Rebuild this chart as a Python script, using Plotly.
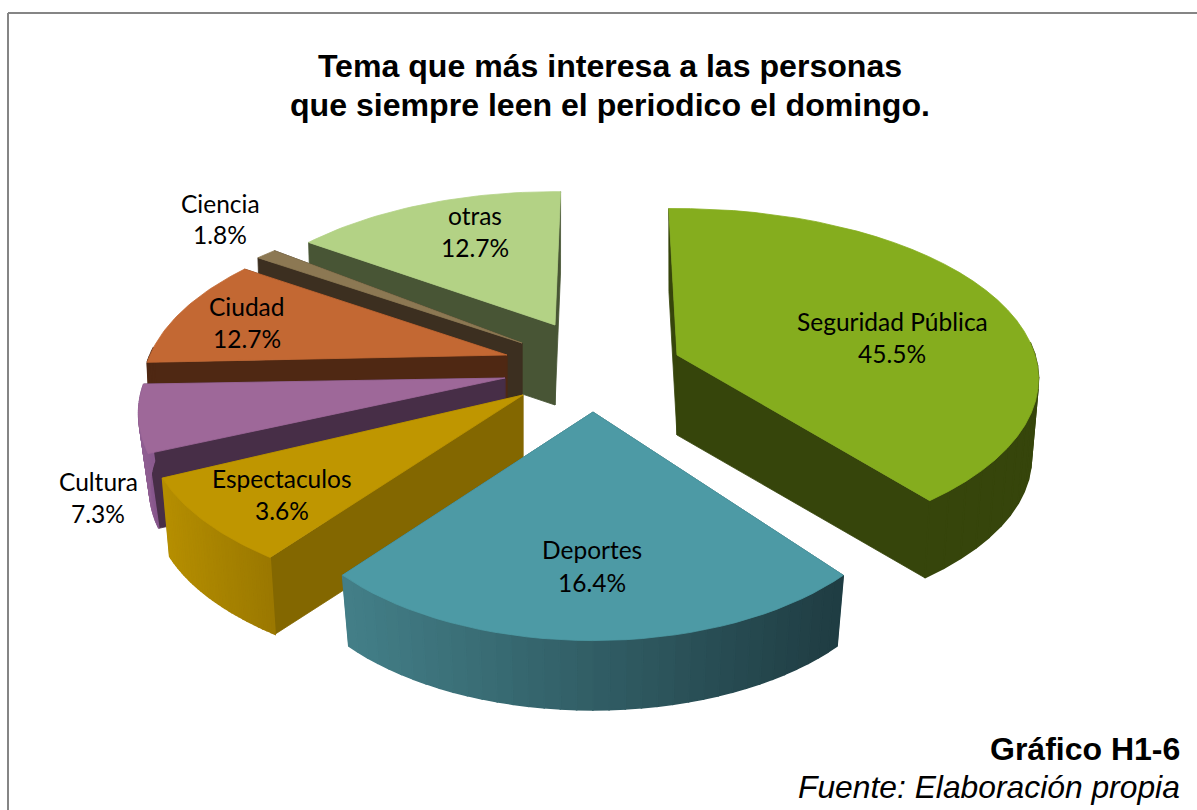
import math
import plotly.graph_objects as go

# ---- data ----
categories = ["Seguridad Pública", "Deportes", "Espectaculos", "Cultura", "Ciudad", "Ciencia", "otras"]
values = [45.5, 16.4, 3.6, 7.3, 12.7, 1.8, 12.7]

# ---- styling: colours ----
TOP = ["#85ad1e", "#4d9aa5", "#bf9600", "#9e6899", "#c36833", "#8c7853", "#b3d285"]
CUT = ["#36450b", "#2a5a62", "#836700", "#472e47", "#4f2813", "#3c2f20", "#485535"]
WALL_A = ["#36450b", "#437f88", "#b58e00", "#8f5f92", "#4f2813", "#3c2f20", "#485535"]
WALL_B = ["#36450b", "#1f3c42", "#9a7800", "#84548a", "#4f2813", "#3c2f20", "#485535"]

# ---- styling: 3-D projection of each exploded slice ----
APEX_X = [677, 593, 523, 505, 507, 522, 555]
APEX_Y = [355, 412, 395, 378, 355, 343, 325]
RX = [358, 293, 368, 359, 357, 365, 336]
RY = [167, 144, 166, 170, 167, 162, 160]
PERSP = [0.14, 0.37, 0.20, 0.20, 0.20, 0.20, 0.20]
ROT = [-12.15, -13.3, -0.3, 8.0, 1.3, -3.0, -4.0]
STRETCH = [0.87, 1.254, 2.15, 0.84, 0.82, 0.62, 1.225]
DEPTH = [80, 75, 80, 77, 75, 75, 80]
SHRINK = [0.98, 0.975, 0.98, 0.97, 0.99, 0.99, 0.99]
DRAW_ORDER = [6, 5, 4, 3, 2, 1, 0]

LABEL_X = [892, 592, 282, 98, 247, 220, 475]
LABEL_Y = [321, 549, 478, 481, 306, 203, 215]
LABEL_GAP = [32, 33, 32, 32, 32, 31, 32]


def hex_rgb(c):
    return tuple(int(c[i:i + 2], 16) for i in (1, 3, 5))


def mix(a, b, f):
    ra, rb = hex_rgb(a), hex_rgb(b)
    return "rgb(%d,%d,%d)" % tuple(round(ra[i] + (rb[i] - ra[i]) * f) for i in range(3))


def poly(fig, xs, ys, color, width=0.8):
    fig.add_trace(go.Scatter(x=xs + xs[:1], y=ys + ys[:1], mode="lines", fill="toself",
                             fillcolor=color, line=dict(color=color, width=width),
                             hoverinfo="skip", showlegend=False))


total = sum(values)
spans = [v / total * 360 for v in values]
starts = [sum(spans[:i]) for i in range(len(spans))]

fig = go.Figure()

for i in DRAW_ORDER:
    mid = starts[i] + spans[i] / 2
    half = spans[i] * STRETCH[i] / 2
    a0, a1 = mid + ROT[i] - half, mid + ROT[i] + half
    ax, ay = APEX_X[i], APEX_Y[i]
    d, g = DEPTH[i], SHRINK[i]
    n = 36
    top_x, top_y, low_x, low_y, ang = [], [], [], [], []
    for j in range(n + 1):
        a = a0 + (a1 - a0) * j / n
        t = math.radians(a)
        s = 1 / (1 + PERSP[i] * math.cos(t))
        px = RX[i] * math.sin(t) * s
        py = -RY[i] * math.cos(t) * s
        ang.append(a)
        top_x.append(ax + px)
        top_y.append(ay + py)
        low_x.append(ax + px * g)
        low_y.append(ay + py * g + d)
    # flat cut faces: the one facing the viewer goes last
    order = (0, n) if mid + ROT[i] < 180 else (n, 0)
    for k in order:
        poly(fig, [ax, top_x[k], low_x[k], ax], [ay, top_y[k], low_y[k], ay + d], CUT[i])
    # curved outer wall, only where it faces the viewer, shaded left to right
    xmin, xmax = min(top_x), max(top_x)
    for j in range(n):
        if math.cos(math.radians((ang[j] + ang[j + 1]) / 2)) > 0.05:
            continue
        f = ((top_x[j] + top_x[j + 1]) / 2 - xmin) / max(xmax - xmin, 1)
        poly(fig, [top_x[j], top_x[j + 1], low_x[j + 1], low_x[j]],
             [top_y[j], top_y[j + 1], low_y[j + 1], low_y[j]], mix(WALL_A[i], WALL_B[i], f), 1.6)
    # upper face
    poly(fig, [ax] + top_x, [ay] + top_y, TOP[i])

for i, name in enumerate(categories):
    for text, yy in ((name, LABEL_Y[i]), (f"{values[i]:.1f}%", LABEL_Y[i] + LABEL_GAP[i])):
        fig.add_annotation(x=LABEL_X[i], y=yy, text=text, showarrow=False, xanchor="center",
                           yanchor="middle", font=dict(family="Lato", size=24.5, color="#000000"))

fig.add_annotation(x=609.5, y=105, text="<b>que siempre leen el periodico el domingo.</b>",
                   showarrow=False, xanchor="center", yanchor="middle",
                   font=dict(family="Liberation Sans", size=32.1, color="#000000"))
fig.add_annotation(x=1182, y=749, text="<b>Gráfico H1-6</b>", showarrow=False, xanchor="right",
                   yanchor="middle", font=dict(family="Liberation Sans", size=32, color="#000000"))
fig.add_annotation(x=1182, y=787, text="<i>Fuente: Elaboración propia</i>", showarrow=False,
                   xanchor="right", yanchor="middle",
                   font=dict(family="Liberation Sans", size=31.8, color="#000000"))

fig.update_layout(
    width=1197, height=810, margin=dict(l=0, r=0, t=0, b=0),
    paper_bgcolor="#ffffff", plot_bgcolor="#ffffff", showlegend=False,
    title=dict(text="<b>Tema que más interesa a las personas</b>",
               x=610 / 1197, xanchor="center", y=1 - 66 / 810, yanchor="middle",
               font=dict(family="Liberation Sans", size=32.1, color="#000000")),
    xaxis=dict(range=[0, 1197], visible=False, fixedrange=True),
    yaxis=dict(range=[810, 0], visible=False, fixedrange=True),
    shapes=[
        dict(type="line", xref="x", yref="y", x0=8, y0=13, x1=1197, y1=13, line=dict(color="#858585", width=2)),
        dict(type="line", xref="x", yref="y", x0=8, y0=13, x1=8, y1=810, line=dict(color="#858585", width=2)),
    ],
)

fig.write_html("out.html", config={"displayModeBar": False},
               post_script="document.body.style.margin='0';document.body.style.overflow='hidden';")
